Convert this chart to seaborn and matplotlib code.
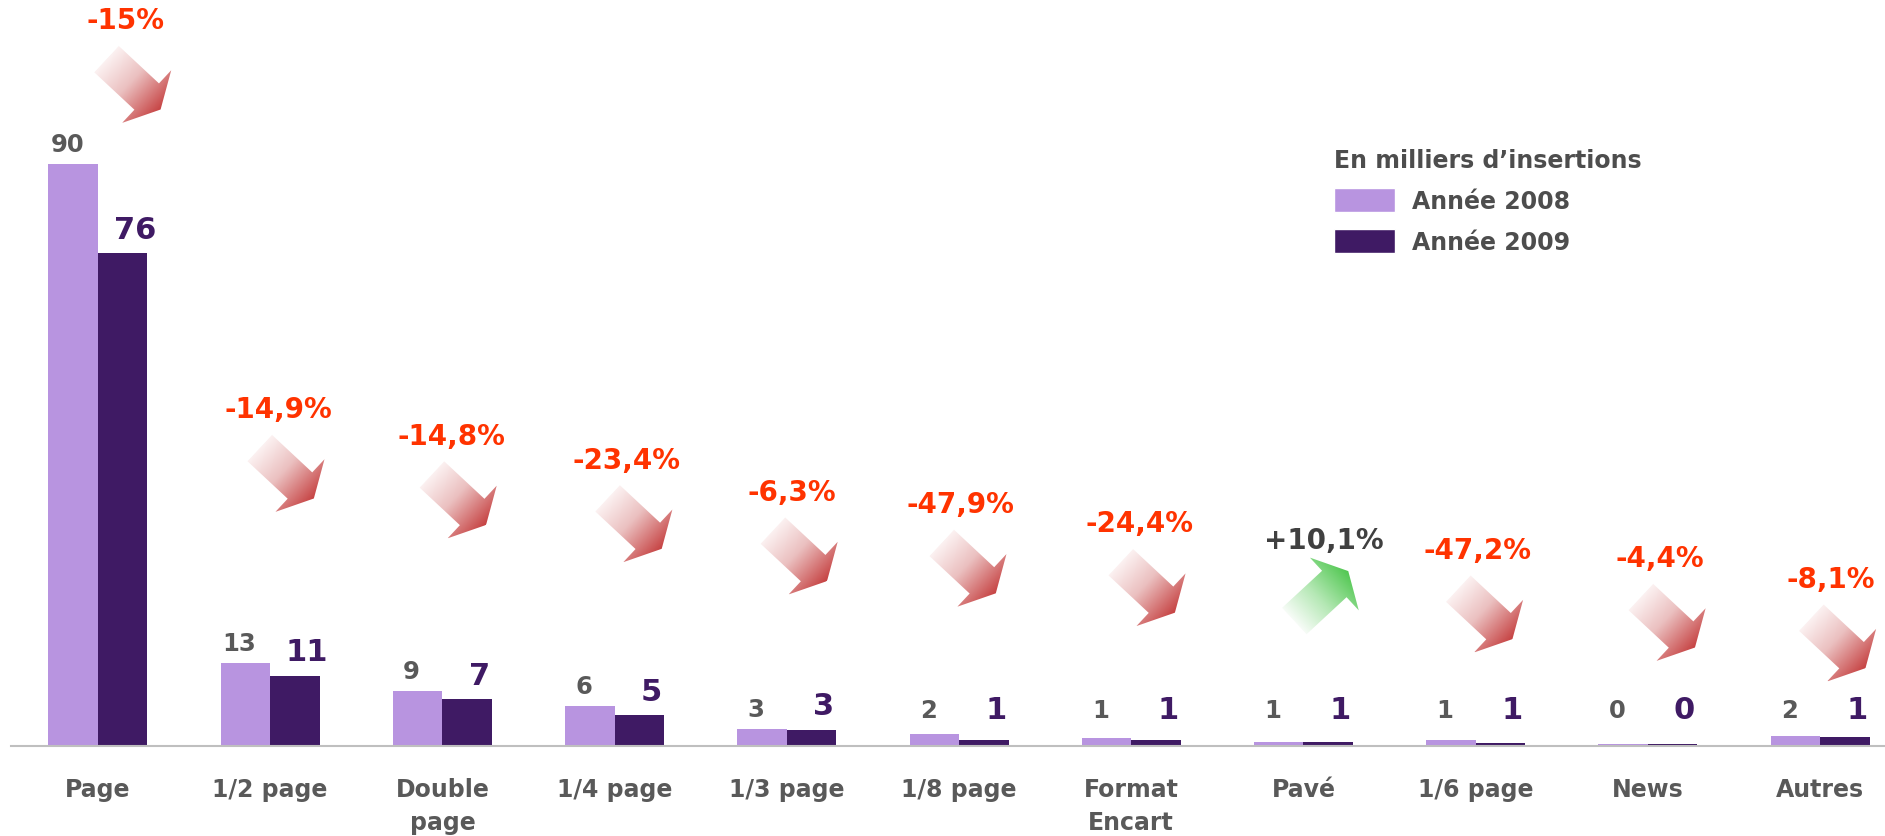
import numpy as np
import pandas as pd
import matplotlib
matplotlib.use("Agg")
import matplotlib.pyplot as plt
import seaborn as sns
from matplotlib.patches import Polygon, Patch
from matplotlib.transforms import Affine2D, ScaledTranslation
from matplotlib.colors import LinearSegmentedColormap

# Données (en milliers d'insertions)
formats = ["Page", "1/2 page", "Double\npage", "1/4 page", "1/3 page", "1/8 page",
           "Format\nEncart", "Pavé", "1/6 page", "News", "Autres"]
annee_2008 = [90.2, 12.8, 8.55, 6.2, 2.7, 1.9, 1.2, 0.55, 0.95, 0.3, 1.5]
annee_2009 = [76.4, 10.9, 7.28, 4.75, 2.53, 0.99, 0.91, 0.61, 0.51, 0.29, 1.38]
evolution = ["-15%", "-14,9%", "-14,8%", "-23,4%", "-6,3%", "-47,9%", "-24,4%",
             "+10,1%", "-47,2%", "-4,4%", "-8,1%"]

# placement des étiquettes de variation (unités des axes)
evolution_x = [0.16, 1.05, 2.05, 3.07, 4.03, 5.01, 6.05, 7.12, 8.01, 9.07, 10.06]
evolution_y = [112.5, 52.2, 48.1, 44.4, 39.4, 37.5, 34.5, 31.9, 30.4, 29.1, 25.9]

c08 = "#B894E0"
c09 = "#3F1A64"
gris = "#595959"

df = pd.DataFrame({
    "Format": formats * 2,
    "Valeur": annee_2008 + annee_2009,
    "Année": ["Année 2008"] * len(formats) + ["Année 2009"] * len(formats),
})

sns.set_style("white")
plt.rcParams["font.family"] = ["DejaVu Sans"]

fig = plt.figure(figsize=(18.85, 8.37), dpi=100)
ax = fig.add_axes([11 / 1885, 90 / 837, 1 - 11 / 1885, 747 / 837])

sns.barplot(data=df, x="Format", y="Valeur", hue="Année", palette=[c08, c09],
            width=0.575, gap=0, linewidth=0, saturation=1, legend=False, ax=ax)

# Étiquettes de valeurs
reglages = [(annee_2008, gris, 17.5, -6, 20, 2.5), (annee_2009, c09, 22, 12, 24, 2.0)]
for cont, (vals, col, taille, dx, dy, mini) in zip(ax.containers, reglages):
    for bar, v in zip(cont, vals):
        x = bar.get_x() + bar.get_width() / 2
        ax.annotate(f"{v:.0f}", xy=(x, max(bar.get_height(), mini)), xytext=(dx, dy),
                    textcoords="offset pixels", ha="center", va="center",
                    fontsize=taille, fontweight="bold", color=col)


def fleche(ax, x, y, monte):
    S, Lh, h, H = 55, 19, 18, 36
    L = S + Lh
    pts = np.array([(0, -h), (S, -h), (S, -H), (L, 0), (S, H), (S, h), (0, h)]) - [L / 2, 0]
    if monte:
        angle, off = 42.8, (-3, -56)
        couleurs = [(0, "#F7FCF7"), (0.45, "#B5E8B5"), (1, "#4EC64E")]
    else:
        angle, off = -43, (8, -64)
        couleurs = [(0, "#FCF2F2"), (0.45, "#EBC0C0"), (1, "#C64242")]
    trans = (Affine2D().rotate_deg(angle).translate(*off)
             + ScaledTranslation(x, y, ax.transData))
    poly = Polygon(pts, closed=True, transform=trans, facecolor="none", edgecolor="none")
    cmap = LinearSegmentedColormap.from_list("deg", couleurs)
    grad = np.linspace(0, 1, 256).reshape(1, -1)
    im = ax.imshow(grad, cmap=cmap, extent=(-L / 2, L / 2, -H, H), transform=trans,
                   aspect="auto", interpolation="bilinear", origin="lower")
    im.set_clip_path(poly)


# Variations 2008 / 2009
for x, y, txt in zip(evolution_x, evolution_y, evolution):
    monte = txt.startswith("+")
    ax.text(x, y, txt, ha="center", va="center", fontsize=20, fontweight="bold",
            color="#404040" if monte else "#FF3300")
    fleche(ax, x, y, monte)

ax.set_xlim(-0.505, 10.377)
ax.set_ylim(0, 115.8)
ax.set_xlabel("")
ax.set_ylabel("")
ax.set_yticks([])
ax.tick_params(axis="x", length=0, pad=22.5, labelsize=17, labelcolor=gris)
for lab in ax.get_xticklabels():
    lab.set_fontweight("bold")
    lab.set_linespacing(1.45)
for s in ["top", "left", "right"]:
    ax.spines[s].set_visible(False)
ax.spines["bottom"].set_color("#BFBFBF")
ax.spines["bottom"].set_linewidth(1.5)

handles = [Patch(facecolor=c08, label="Année 2008"), Patch(facecolor=c09, label="Année 2009")]
leg = ax.legend(handles=handles, title="En milliers d’insertions", loc="upper left",
                bbox_to_anchor=(1334 / 1885, 1 - 149 / 837), bbox_transform=fig.transFigure,
                frameon=False, prop={"weight": "bold", "size": 17},
                title_fontproperties={"weight": "bold", "size": 17},
                handlelength=2.6, handleheight=1.2, handletextpad=0.7,
                labelspacing=0.68, borderpad=0, borderaxespad=0, alignment="left")
for t in leg.get_texts():
    t.set_color("#4D4D4D")
leg.get_title().set_color("#4D4D4D")

fig.savefig("out.png", dpi=100)
